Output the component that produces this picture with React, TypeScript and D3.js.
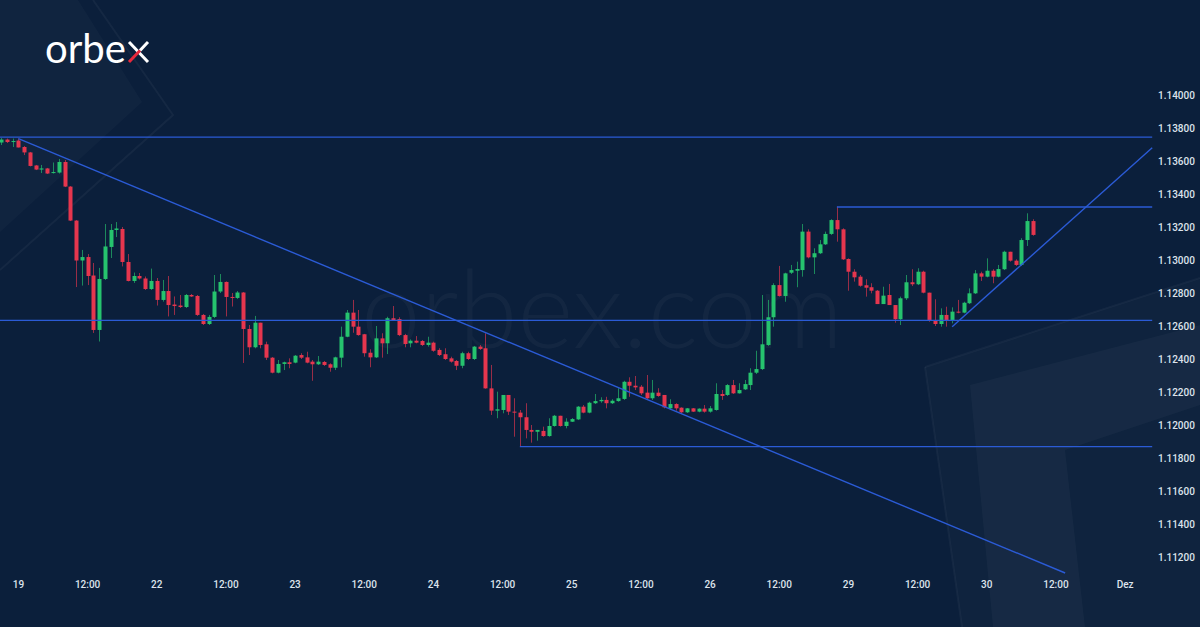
import React from "react";
import * as d3 from "d3";

const W = 1200;
const H = 627;

// Hourly EURUSD candles (index 0..179)
const opens = [1.13712,1.1373,1.13715,1.13724,1.13685,1.13652,1.13573,1.13548,1.13555,1.13527,1.1353,1.13594,1.13445,1.13239,1.12997,1.13018,1.12906,1.12576,1.12885,1.13079,1.13182,1.13188,1.12988,1.12873,1.12903,1.12888,1.12824,1.12873,1.12758,1.12812,1.1273,1.12724,1.12715,1.12788,1.12782,1.12667,1.12612,1.12655,1.12809,1.12867,1.12776,1.1277,1.12803,1.12582,1.12471,1.1262,1.12489,1.12408,1.12317,1.1237,1.1238,1.12378,1.12424,1.1241,1.12384,1.12368,1.12382,1.12368,1.12347,1.12408,1.12535,1.12681,1.12596,1.1255,1.12438,1.1241,1.12525,1.12495,1.12647,1.12642,1.12545,1.12495,1.12511,1.12509,1.12485,1.12499,1.12455,1.12429,1.12404,1.12388,1.12359,1.12435,1.124,1.12475,1.12465,1.12222,1.12087,1.12091,1.12182,1.12081,1.12075,1.12047,1.1197,1.11959,1.11964,1.11933,1.11994,1.12056,1.11994,1.1202,1.12034,1.12111,1.12075,1.12132,1.12144,1.12152,1.12132,1.12145,1.12158,1.12262,1.12238,1.12232,1.12196,1.12162,1.12196,1.12182,1.12101,1.12127,1.12105,1.12077,1.12101,1.12081,1.12099,1.12081,1.12091,1.12188,1.12182,1.12242,1.12192,1.12216,1.12242,1.12317,1.12339,1.12485,1.12653,1.12848,1.12782,1.12923,1.12935,1.12939,1.13172,1.13016,1.13041,1.13095,1.13158,1.13242,1.13186,1.13006,1.12929,1.12899,1.12847,1.12835,1.12814,1.12733,1.12788,1.12727,1.12641,1.12768,1.12865,1.12853,1.12929,1.12802,1.12632,1.12612,1.12667,1.12632,1.12687,1.12681,1.12738,1.12798,1.12919,1.12899,1.12935,1.12899,1.12944,1.1305,1.12996,1.1297,1.13121,1.13236];
const highs = [1.13739,1.13736,1.13736,1.13736,1.13691,1.13655,1.13576,1.13576,1.13558,1.13591,1.13612,1.13606,1.13448,1.13242,1.13061,1.13036,1.12982,1.12952,1.13218,1.13218,1.1323,1.132,1.13036,1.12924,1.12921,1.129,1.12948,1.12891,1.12879,1.12903,1.12779,1.12788,1.12794,1.12794,1.12788,1.12673,1.12667,1.12909,1.12915,1.1287,1.128,1.12812,1.12806,1.12606,1.12661,1.1262,1.12505,1.12412,1.12394,1.12384,1.12404,1.12424,1.12435,1.12444,1.12394,1.12418,1.12388,1.12374,1.12414,1.12596,1.12697,1.12758,1.12697,1.12552,1.12459,1.126,1.12556,1.12656,1.12721,1.12653,1.12552,1.12519,1.12539,1.12515,1.12535,1.12505,1.12465,1.12465,1.12414,1.12394,1.12444,1.12444,1.12479,1.12485,1.12556,1.12364,1.12202,1.12182,1.12182,1.12162,1.12091,1.12132,1.12,1.1197,1.1199,1.12041,1.12061,1.12056,1.12041,1.12042,1.12115,1.12121,1.12141,1.12188,1.12168,1.12171,1.12156,1.12223,1.12268,1.12289,1.12297,1.12242,1.12303,1.12273,1.12223,1.12182,1.12156,1.12132,1.12107,1.12103,1.12103,1.12101,1.12121,1.12115,1.12253,1.12212,1.12248,1.12273,1.12253,1.12273,1.12344,1.1245,1.12788,1.12758,1.12859,1.12964,1.12923,1.1297,1.1299,1.13218,1.13186,1.13071,1.13121,1.13172,1.13247,1.13323,1.13192,1.1301,1.12944,1.12909,1.12883,1.12859,1.12818,1.12838,1.12855,1.12727,1.12778,1.12909,1.12944,1.1295,1.12935,1.12802,1.12762,1.12707,1.12717,1.12713,1.12758,1.12747,1.12828,1.12939,1.12929,1.1301,1.12944,1.1297,1.13056,1.1305,1.13004,1.13132,1.13283,1.13247];
const lows = [1.13697,1.13709,1.13685,1.13682,1.13636,1.13567,1.13545,1.13527,1.13521,1.13524,1.13524,1.13442,1.13236,1.12836,1.12845,1.12848,1.12558,1.12506,1.12879,1.13012,1.13139,1.12961,1.1287,1.12861,1.12882,1.12818,1.12818,1.12724,1.12748,1.12658,1.12667,1.12709,1.12709,1.12776,1.12661,1.12606,1.12606,1.12648,1.128,1.12658,1.12718,1.12764,1.12376,1.12424,1.12465,1.12465,1.12394,1.12313,1.12313,1.12333,1.12344,1.12374,1.124,1.12374,1.12268,1.12364,1.12358,1.12323,1.12333,1.1235,1.12532,1.12559,1.12541,1.12414,1.1235,1.12406,1.12408,1.1243,1.12632,1.12539,1.12471,1.12471,1.12495,1.12479,1.12475,1.12444,1.12418,1.12394,1.12378,1.12333,1.12344,1.12394,1.12394,1.12455,1.1222,1.12061,1.12041,1.12071,1.12061,1.11929,1.11869,1.11919,1.11893,1.11905,1.11929,1.11929,1.1199,1.1199,1.1198,1.12018,1.1203,1.12071,1.12071,1.12127,1.12135,1.12101,1.12127,1.12141,1.12152,1.12171,1.12212,1.12182,1.12158,1.12152,1.12171,1.12101,1.12091,1.12087,1.12071,1.12073,1.12079,1.12077,1.12075,1.12075,1.12087,1.12152,1.12176,1.12188,1.1219,1.12212,1.12212,1.12309,1.12333,1.12479,1.12596,1.12778,1.12747,1.12915,1.12835,1.12899,1.1301,1.12915,1.13036,1.13091,1.13152,1.13111,1.13,1.12814,1.12869,1.12838,1.12778,1.12798,1.12733,1.12733,1.12727,1.1262,1.12606,1.12758,1.12842,1.12848,1.12798,1.12626,1.126,1.12596,1.12596,1.12616,1.12677,1.12677,1.12733,1.12794,1.12873,1.12895,1.12859,1.12895,1.12939,1.1299,1.12964,1.12964,1.13085,1.13147];
const closes = [1.1373,1.13715,1.13721,1.13682,1.13652,1.1357,1.13548,1.13555,1.13524,1.13533,1.13594,1.13445,1.13239,1.12997,1.13018,1.12903,1.12576,1.12885,1.13082,1.13182,1.13191,1.12988,1.12873,1.12903,1.12888,1.12824,1.12873,1.12758,1.12812,1.12727,1.12721,1.12715,1.12788,1.12779,1.12667,1.12612,1.12655,1.12809,1.12867,1.12776,1.1277,1.12803,1.12582,1.12471,1.1262,1.12485,1.12408,1.12317,1.1237,1.1238,1.1237,1.1242,1.12408,1.12378,1.12368,1.12384,1.12364,1.12347,1.1241,1.12535,1.12681,1.12596,1.12545,1.12435,1.1241,1.12525,1.12495,1.12647,1.12636,1.12545,1.12491,1.12511,1.12499,1.12485,1.12499,1.1245,1.12424,1.124,1.12384,1.12359,1.12435,1.124,1.12475,1.12461,1.12222,1.12087,1.12095,1.12182,1.12081,1.12075,1.12047,1.1197,1.11959,1.1197,1.11933,1.11994,1.12056,1.11994,1.1202,1.12036,1.12111,1.12075,1.12135,1.12145,1.12152,1.12132,1.12147,1.12162,1.12262,1.12238,1.12228,1.12192,1.12162,1.12196,1.12176,1.12107,1.12127,1.12101,1.12077,1.12101,1.12081,1.12099,1.12081,1.12101,1.12188,1.12176,1.12242,1.12192,1.12212,1.12248,1.12317,1.12339,1.12489,1.12653,1.12848,1.12782,1.12919,1.12939,1.12945,1.13172,1.13016,1.13041,1.13095,1.13158,1.13242,1.13186,1.13004,1.12929,1.12895,1.12844,1.12832,1.12814,1.12733,1.12784,1.12727,1.12641,1.12768,1.12865,1.12853,1.12929,1.12802,1.12632,1.12612,1.12667,1.12636,1.12687,1.12681,1.12741,1.12798,1.12919,1.12899,1.12935,1.12899,1.12945,1.1305,1.12996,1.1297,1.13121,1.13236,1.13152];

const yTicks = [1.112, 1.114, 1.116, 1.118, 1.12, 1.122, 1.124, 1.126, 1.128, 1.13, 1.132, 1.134, 1.136, 1.138, 1.14];
const xTickIdx = [3, 15, 27, 39, 51, 63, 75, 87, 99, 111, 123, 135, 147, 159, 171, 183, 195];
const xTickLabels = ["19", "12:00", "22", "12:00", "23", "12:00", "24", "12:00", "25", "12:00", "26", "12:00", "29", "12:00", "30", "12:00", "Dez"];

// drawn analysis lines: [startIndex, startPrice, endIndex, endPrice]
const levelLines = [
  [-0.2, 1.13745, 199.7, 1.13745],
  [-0.2, 1.12634, 199.7, 1.12634],
  [145, 1.13321, 199.7, 1.13321],
  [90, 1.11869, 199.7, 1.11869],
  [3, 1.13735, 184.6, 1.11103],
  [165, 1.12596, 199.7, 1.1368],
];

const BG = "#0b1f3b";
const GREEN = "#26c36e";
const RED = "#e6364e";
const LINE = "#2b5bd6";

export default function App() {
  const x = d3.scaleLinear().domain([3, 195]).range([18.4, 1125.1]);
  const y = d3.scaleLinear().domain([1.112, 1.14]).range([557, 95]);
  const fmt = d3.format(".5f");
  const bw = 4;

  return (
    <svg
      width={W}
      height={H}
      style={{ position: "fixed", left: 0, top: 0, display: "block" }}
    >
      <defs>
        <clipPath id="plot">
          <rect x={0} y={0} width={1153} height={H} />
        </clipPath>
      </defs>
      <rect x={0} y={0} width={W} height={H} fill={BG} />

      {/* background decoration */}
      <polygon points="0,0 78,0 142,102 0,232" fill="rgba(255,255,255,0.022)" />
      <polyline points="93,0 173,115 0,270" fill="none" stroke="rgba(255,255,255,0.045)" strokeWidth={2} />
      <polygon points="925,367 1200,278 1200,627 962,627" fill="rgba(255,255,255,0.018)" />
      <polyline points="925,367 1200,278" fill="none" stroke="rgba(255,255,255,0.04)" strokeWidth={2} />
      <polyline points="925,367 962,627" fill="none" stroke="rgba(255,255,255,0.04)" strokeWidth={2} />
      <polygon points="970,385 1200,325 1200,405 1065,450 1085,627 993,627" fill="rgba(255,255,255,0.03)" />

      {/* watermark */}
      <text
        x={361}
        y={348}
        fontFamily="Lato, 'Open Sans', sans-serif"
        fontWeight={300}
        fontSize={108}
        textLength={482}
        lengthAdjust="spacingAndGlyphs"
        fill="rgba(255,255,255,0.035)"
      >
        orbex.com
      </text>

      {/* logo */}
      <text
        x={45}
        y={63}
        fontFamily="Lato, 'Open Sans', sans-serif"
        fontWeight={400}
        fontSize={40}
        textLength={81}
        lengthAdjust="spacingAndGlyphs"
        fill="#ffffff"
      >
        orbe
      </text>
      <line x1={129} y1={42} x2={148} y2={62} stroke="#ffffff" strokeWidth={3} />
      <line x1={148} y1={42} x2={140} y2={50.5} stroke="#ffffff" strokeWidth={3} />
      <line x1={140} y1={50.5} x2={129} y2={62} stroke="#e8283c" strokeWidth={3} />

      <g clipPath="url(#plot)">
        {/* candles */}
        {opens.map((o, i) => {
          const c = closes[i];
          const up = c >= o;
          const col = up ? GREEN : RED;
          const cx = Math.round(x(i)) + 0.5;
          const top = y(Math.max(o, c));
          const bot = y(Math.min(o, c));
          return (
            <g key={i}>
              <line
                x1={cx}
                x2={cx}
                y1={y(highs[i])}
                y2={y(lows[i])}
                stroke={col}
                strokeOpacity={0.65}
                strokeWidth={1}
              />
              <rect
                x={cx - bw / 2}
                y={top}
                width={bw}
                height={Math.max(1, bot - top)}
                fill={col}
              />
            </g>
          );
        })}

        {/* analysis lines */}
        {levelLines.map((l, k) => (
          <line
            key={k}
            x1={x(l[0])}
            y1={y(l[1])}
            x2={x(l[2])}
            y2={y(l[3])}
            stroke={LINE}
            strokeWidth={1.4}
          />
        ))}
      </g>

      {/* y axis labels */}
      {yTicks.map((t) => (
        <text
          key={t}
          x={1158}
          y={y(t)}
          dominantBaseline="central"
          fontFamily="Roboto, 'Open Sans', sans-serif"
          fontWeight={500}
          fontSize={10}
          fill="#dde3ec"
        >
          {fmt(t)}
        </text>
      ))}

      {/* x axis labels */}
      {xTickIdx.map((t, k) => (
        <text
          key={k}
          x={x(t)}
          y={584}
          textAnchor="middle"
          dominantBaseline="central"
          fontFamily="Roboto, 'Open Sans', sans-serif"
          fontWeight={500}
          fontSize={10}
          fill="#dde3ec"
        >
          {xTickLabels[k]}
        </text>
      ))}
    </svg>
  );
}
